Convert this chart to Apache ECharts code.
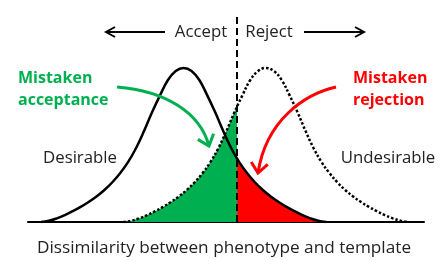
<!DOCTYPE html>
<html><head><meta charset="utf-8">
<script src="https://cdn.jsdelivr.net/npm/echarts@6/dist/echarts.min.js"></script>
<style>html,body{margin:0;padding:0;background:#fff}#c{width:448px;height:261px}</style>
</head><body><div id="c"></div>
<script>
// Desirable (solid) distribution
const solidX = [3.3,5.3,7.3,9.3,11.3,13.3,15.3,17.3,19.3,21.3,23.3,25.3,27.3,29.3,31.3,33.3,35.3,37.3,39.3,41.3,43.3,45.3,47.3,49.3,51.3,53.3,55.3,57.3,59.3,61.3,63.3,65.3,67.3,69.3,71.3,73.3,75.3];
const solidY = [0,0.008,0.024,0.045,0.07,0.098,0.13,0.166,0.208,0.258,0.318,0.39,0.48,0.59,0.71,0.82,0.92,0.98,1.0,0.98,0.92,0.82,0.71,0.59,0.48,0.39,0.318,0.258,0.208,0.166,0.13,0.098,0.07,0.045,0.024,0.008,0];
// Undesirable (dotted) distribution
const dottedX = [24.1,26.1,28.1,30.1,32.1,34.1,36.1,38.1,40.1,42.1,44.1,46.1,48.1,50.1,52.1,54.1,56.1,58.1,60.1,62.1,64.1,66.1,68.1,70.1,72.1,74.1,76.1,78.1,80.1,82.1,84.1,86.1,88.1,90.1,92.1,94.1,96.1];
const dottedY = [0,0.008,0.024,0.045,0.07,0.098,0.13,0.166,0.208,0.258,0.318,0.39,0.48,0.59,0.71,0.82,0.92,0.98,1.0,0.98,0.92,0.82,0.71,0.59,0.48,0.39,0.318,0.258,0.208,0.166,0.13,0.098,0.07,0.045,0.024,0.008,0];
// Threshold and curve heights at threshold
const threshold = 52.8;
const dottedAtThreshold = 0.749;
const solidAtThreshold = 0.413;
// Texts
const axisTitle = 'Dissimilarity between phenotype and template';
const acceptLabel = 'Accept', rejectLabel = 'Reject';
const desirableLabel = 'Desirable', undesirableLabel = 'Undesirable';
const mistakenAcc = ['Mistaken', 'acceptance'];
const mistakenRej = ['Mistaken', 'rejection'];

const solidData = solidX.map((x,i)=>[x, solidY[i]]);
const dottedData = dottedX.map((x,i)=>[x, dottedY[i]]);
const greenData = dottedData.filter(p=>p[0] < threshold).concat([[threshold, dottedAtThreshold]]);
const redData = [[threshold, solidAtThreshold]].concat(solidData.filter(p=>p[0] > threshold));

const GREEN = '#00b050', RED = '#ff0000', TXT = '#222';
const FONT = 'Open Sans';
const REG = '16.8px "'+FONT+'"', BOLD = 'bold 16px "'+FONT+'"';

function arrowHead(tx, ty, dx, dy, len, ang){
  const n = Math.hypot(dx,dy); const bx=-dx/n, by=-dy/n;
  const a = ang*Math.PI/180;
  const p1=[tx+len*(bx*Math.cos(a)-by*Math.sin(a)), ty+len*(bx*Math.sin(a)+by*Math.cos(a))];
  const p2=[tx+len*(bx*Math.cos(-a)-by*Math.sin(-a)), ty+len*(bx*Math.sin(-a)+by*Math.cos(-a))];
  return [p1,[tx,ty],p2];
}

const chart = echarts.init(document.getElementById('c'), null, {renderer:'canvas'});
const txt = (x,y,text,opt)=>Object.assign({type:'text', x, y, style:Object.assign({text, fill:TXT, font:REG, textAlign:'left', textVerticalAlign:'middle'}, opt||{})});
const SM = {smooth:0.4};
chart.setOption({
  animation:false,
  grid:{left:28, right:24, top:14, bottom:39},
  xAxis:{type:'value', min:0, max:100, axisLine:{lineStyle:{color:'#000', width:2}}, axisTick:{show:false}, axisLabel:{show:false}, splitLine:{show:false}},
  yAxis:{type:'value', min:0, max:1.35, show:false, splitLine:{show:false}},
  series:[
    Object.assign({type:'line', data:greenData, showSymbol:false, lineStyle:{width:0}, areaStyle:{color:GREEN, opacity:1}, z:1}, SM),
    Object.assign({type:'line', data:redData, showSymbol:false, lineStyle:{width:0}, areaStyle:{color:RED, opacity:1}, z:1}, SM),
    Object.assign({type:'line', data:dottedData, showSymbol:false, lineStyle:{color:'#000', width:2.5, type:[2.5,2]}, z:3}, SM),
    Object.assign({type:'line', data:solidData, showSymbol:false, lineStyle:{color:'#000', width:2.5}, z:3,
      markLine:{silent:true, symbol:['none','none'], label:{show:false}, lineStyle:{color:'#000', width:2, type:[7,4]}, data:[{xAxis:threshold}]}}, SM)
  ],
  graphic:[
    txt(201,32,acceptLabel,{textAlign:'center'}),
    txt(269,32,rejectLabel,{textAlign:'center'}),
    {type:'line', shape:{x1:106,y1:32,x2:165,y2:32}, style:{stroke:'#000', lineWidth:2}},
    {type:'polyline', shape:{points:[[115,27],[106,32],[115,37]]}, style:{stroke:'#000', lineWidth:2, fill:null}},
    {type:'line', shape:{x1:304,y1:32,x2:364,y2:32}, style:{stroke:'#000', lineWidth:2}},
    {type:'polyline', shape:{points:[[355,27],[364,32],[355,37]]}, style:{stroke:'#000', lineWidth:2, fill:null}},
    txt(18,78,mistakenAcc[0],{fill:GREEN, font:BOLD}),
    txt(18,100,mistakenAcc[1],{fill:GREEN, font:BOLD}),
    txt(353,78,mistakenRej[0],{fill:RED, font:BOLD}),
    txt(353,100,mistakenRej[1],{fill:RED, font:BOLD}),
    txt(80,158,desirableLabel,{textAlign:'center'}),
    txt(388,158,undesirableLabel,{textAlign:'center'}),
    txt(224,248,axisTitle,{textAlign:'center', font:'17.2px "'+FONT+'"'}),
    {type:'bezierCurve', shape:{x1:117,y1:87,cpx1:165,cpy1:91,cpx2:200,cpy2:112,x2:209,y2:146}, style:{stroke:GREEN, lineWidth:3, fill:null}, z:10},
    {type:'polyline', shape:{points:arrowHead(209,146,0.35,1,13,40)}, style:{stroke:GREEN, lineWidth:3, fill:null}, z:10},
    {type:'bezierCurve', shape:{x1:336,y1:87,cpx1:305,cpy1:94,cpx2:266,cpy2:120,x2:258,y2:173}, style:{stroke:RED, lineWidth:3, fill:null}, z:10},
    {type:'polyline', shape:{points:arrowHead(258,173,-0.15,1,13,40)}, style:{stroke:RED, lineWidth:3, fill:null}, z:10}
  ]
});
</script></body></html>
